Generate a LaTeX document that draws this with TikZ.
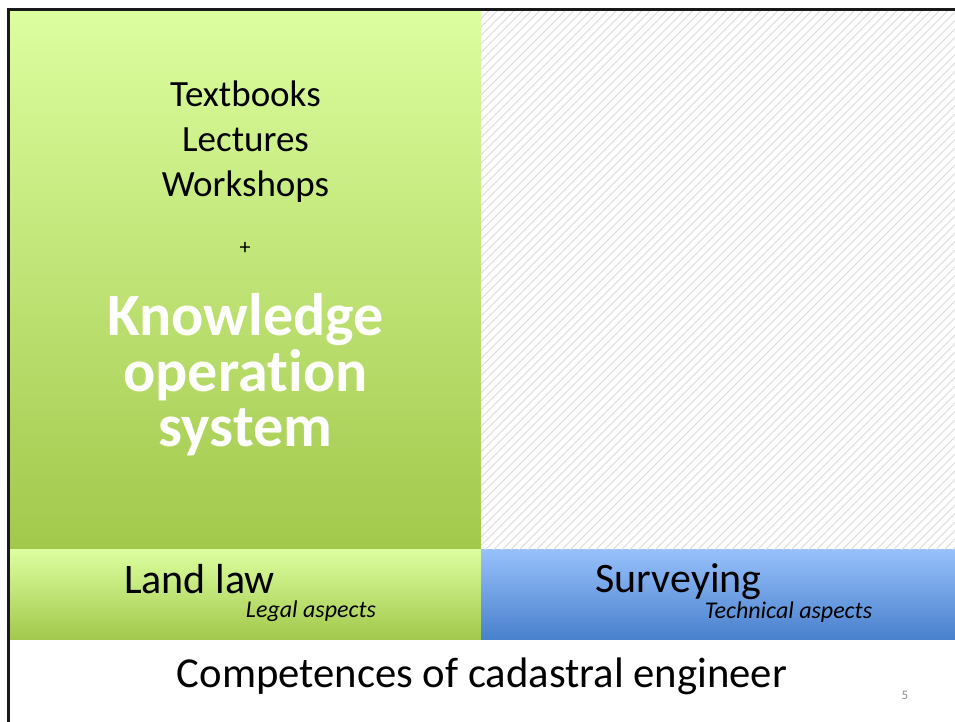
\documentclass[tikz,border=0pt]{standalone}
\usepackage{fontspec}
\setmainfont{Carlito}[Ligatures=NoCommon]
\usetikzlibrary{positioning}

\definecolor{greenlight}{RGB}{220,254,159}
\definecolor{greendark}{RGB}{162,200,75}
\definecolor{bluelight}{RGB}{151,192,251}
\definecolor{bluedark}{RGB}{72,128,204}
\definecolor{hatchgray}{RGB}{218,218,218}
\definecolor{pagegray}{RGB}{140,140,140}

\begin{document}
\begin{tikzpicture}[
	x=1pt, y=1pt,
	greenbox/.style = {top color=greenlight,bottom color=greendark,draw=none},
	bluebox/.style = {top color=bluelight,bottom color=bluedark,draw=none},
	txt/.style = {inner sep=0pt,anchor=base},
	big/.style = {font=\fontsize{37}{45}\selectfont},
	huge/.style = {font=\fontsize{60}{56}\bfseries\selectfont,text=white},
	sub/.style = {font=\fontsize{24}{28}\itshape\selectfont}
	]

	\useasboundingbox (0,0) rectangle (955,722);

	% boxes
	\coordinate (@tl) at (10,711);
	\coordinate (@mid) at (481,172);
	\coordinate (@br) at (955,82);

	\fill[greenbox] (@tl) rectangle (@mid);
	\fill[greenbox] (10,172) rectangle (481,82);
	\fill[bluebox] (@mid) rectangle (@br);

	% hatched area
	\begin{scope}
		\clip (481,172) rectangle (955,711);
		\foreach \i in {-540,-531.5,...,480}
			\draw[hatchgray,line width=0.9pt] (481+\i,172) -- ++(539,539);
	\end{scope}

	% frame
	\draw[line width=2.6pt,black!90] (8.5,0) |- (955,712.5);

	% texts
	\node[txt,big] (textbooks) at (245.5,615) {Textbooks};
	\node[txt,big] (lectures) at (245.5,570) {Lectures};
	\node[txt,big] (workshops) at (245.5,525) {Workshops};
	\node[txt,font=\fontsize{22}{26}\selectfont] (plus) at (245,467) {+};

	\node[txt,huge] (knowledge) at (245.5,386) {Knowledge};
	\node[txt,huge] (operation) at (245.5,330) {opera\kern0pt tion};
	\node[txt,huge] (system) at (245.5,275) {system};

	\node[txt,font=\fontsize{42}{50}\selectfont] (landlaw) at (199.5,128) {Land law};
	\node[txt,sub] (legal) at (311,104) {Legal aspects};
	\node[txt,font=\fontsize{42}{50}\selectfont] (surveying) at (678.5,129) {Surveying};
	\node[txt,sub] (technical) at (788.5,103) {Technical aspects};

	\node[txt,font=\fontsize{42.7}{50}\selectfont] (title) at (482,34) {Competences of cadastral engineer};
	\node[txt,font=\fontsize{13}{15}\selectfont,text=pagegray] (pagenr) at (905,22) {5};

\end{tikzpicture}
\end{document}
